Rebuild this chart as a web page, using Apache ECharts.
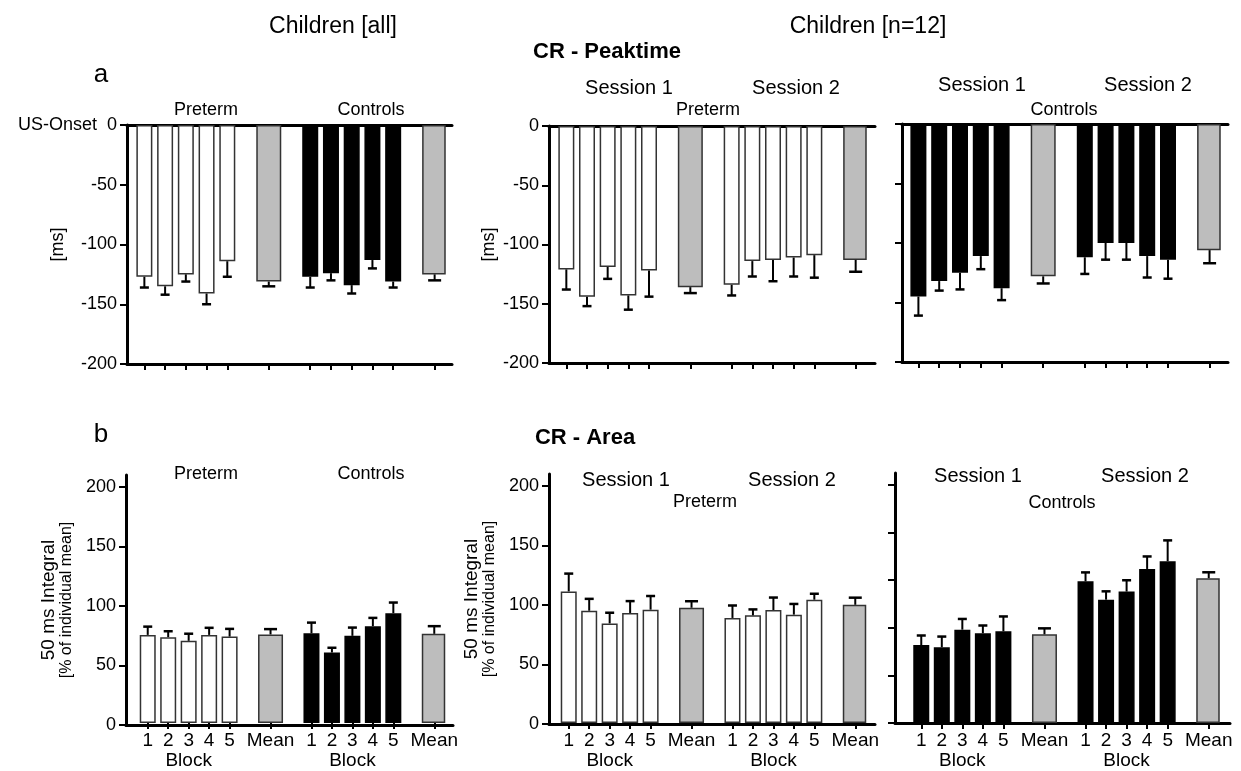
<!DOCTYPE html>
<html><head><meta charset="utf-8">
<script src="https://cdn.jsdelivr.net/npm/echarts@6/dist/echarts.min.js"></script>
<style>html,body{margin:0;padding:0;background:#fff}#c{width:1241px;height:771px}</style>
</head><body><div id="c"></div>
<script>
// ---------- data ----------
const categories = ['1','2','3','4','5','','Mean','','1','2','3','4','5','','Mean'];
const peakTicks = [-200,-150,-100,-50,0];
const areaTicks = [0,50,100,150,200];
const areaTicksControls = [0,40,80,120,160,200];

// CR - Peaktime, Children [all]: Preterm / Controls
const peakAllPreterm = [-127,-135,-125,-141,-114];
const peakAllPretermErr = [9,7,6,9,13];
const peakAllControls = [-127,-124,-134,-113,-131];
const peakAllControlsErr = [9,6,7,7,5];
const peakAllMeans = [-131,-125];
const peakAllMeansErr = [4,5];

// CR - Peaktime, Children [n=12], Preterm: Session 1 / Session 2
const peakPretS1 = [-121,-144,-119,-143,-122];
const peakPretS1Err = [17,8,10,12,22];
const peakPretS2 = [-134,-114,-113,-111,-109];
const peakPretS2Err = [9,13,18,16,19];
const peakPretMeans = [-136,-113];
const peakPretMeansErr = [5,10];

// CR - Peaktime, Children [n=12], Controls: Session 1 / Session 2
const peakCtrlS1 = [-145,-132,-125,-111,-138];
const peakCtrlS1Err = [16,8,14,11,10];
const peakCtrlS2 = [-112,-100,-100,-111,-114];
const peakCtrlS2Err = [14,14,14,18,16];
const peakCtrlMeans = [-128,-106];
const peakCtrlMeansErr = [6,11];

// CR - Area, Children [all]: Preterm / Controls
const areaAllPreterm = [74.6,72.7,69.6,74.6,73.2];
const areaAllPretermErr = [7,5,6,6,6.5];
const areaAllControls = [76,59.7,73.8,82,93];
const areaAllControlsErr = [9,4,7,7,9];
const areaAllMeans = [75,75.5];
const areaAllMeansErr = [4.5,6.5];

// CR - Area, Children [n=12], Preterm: Session 1 / Session 2
const areaPretS1 = [111,94.7,84,92.8,95.6];
const areaPretS1Err = [15,10,9,10,11.5];
const areaPretS2 = [88.6,90.8,95.3,91.4,104];
const areaPretS2Err = [10.5,5,10.5,9,5];
const areaPretMeans = [97.2,99.7];
const areaPretMeansErr = [5.5,6];

// CR - Area, Children [n=12], Controls: Session 1 / Session 2
const areaCtrlS1 = [65.5,63.6,78.4,75.4,77];
const areaCtrlS1Err = [8,9,9,6.5,12.5];
const areaCtrlS2 = [119,103.6,110.4,129.4,135.9];
const areaCtrlS2Err = [7.5,7,9.5,10.5,17.5];
const areaCtrlMeans = [74.5,121.6];
const areaCtrlMeansErr = [5,5];

// ---------- layout ----------
const FONT = 'Liberation Sans, Arial, Helvetica, sans-serif';
const WHITE = '#ffffff', BLACK = '#000000', GRAY = '#bdbdbd';
const blockIdx1 = [0,1,2,3,4], blockIdx2 = [8,9,10,11,12], meanIdx = [6,14];
const AREA_NAME = '{a|50 ms Integral}\n{b|[% of individual mean]}';

const panels = [
  {frame:[127,125,325,239], data:[134,125,311,239], ext:[-200,0], ticks:peakTicks, labels:true,
   name:'[ms]', nameGap:60, top:true, xLabels:false, onset:true, colors:[WHITE,BLACK],
   g1:peakAllPreterm, e1:peakAllPretermErr, g2:peakAllControls, e2:peakAllControlsErr, m:peakAllMeans, me:peakAllMeansErr},
  {frame:[549,126,326,237], data:[556,126,310,237], ext:[-200,0], ticks:peakTicks, labels:true,
   name:'[ms]', nameGap:51, top:true, xLabels:false, colors:[WHITE,WHITE],
   g1:peakPretS1, e1:peakPretS1Err, g2:peakPretS2, e2:peakPretS2Err, m:peakPretMeans, me:peakPretMeansErr},
  {frame:[902,124,326,238], data:[908,124,312,238], ext:[-200,0], ticks:peakTicks, labels:false,
   name:'', top:true, xLabels:false, colors:[BLACK,BLACK],
   g1:peakCtrlS1, e1:peakCtrlS1Err, g2:peakCtrlS2, e2:peakCtrlS2Err, m:peakCtrlMeans, me:peakCtrlMeansErr},
  {frame:[126,475,327,250], data:[137.5,475,307,250], ext:[0,210], ticks:areaTicks, labels:true,
   name:AREA_NAME, nameGap:51, top:false, xLabels:true, colors:[WHITE,BLACK],
   g1:areaAllPreterm, e1:areaAllPretermErr, g2:areaAllControls, e2:areaAllControlsErr, m:areaAllMeans, me:areaAllMeansErr},
  {frame:[549,474,326,250], data:[558.5,474,307,250], ext:[0,210], ticks:areaTicks, labels:true,
   name:AREA_NAME, nameGap:51, top:false, xLabels:true, colors:[WHITE,WHITE],
   g1:areaPretS1, e1:areaPretS1Err, g2:areaPretS2, e2:areaPretS2Err, m:areaPretMeans, me:areaPretMeansErr},
  {frame:[895,473,335,250], data:[911,473,308,250], ext:[0,210], ticks:areaTicksControls, labels:false,
   name:'', top:false, xLabels:true, colors:[BLACK,BLACK],
   g1:areaCtrlS1, e1:areaCtrlS1Err, g2:areaCtrlS2, e2:areaCtrlS2Err, m:areaCtrlMeans, me:areaCtrlMeansErr}
];

const grid = [], xAxis = [], yAxis = [], series = [];

function line(w){ return {show:true, onZero:false, lineStyle:{color:'#000', width:w}}; }

panels.forEach(p => {
  const fg = grid.length;
  grid.push({left:p.frame[0], top:p.frame[1], width:p.frame[2], height:p.frame[3]});
  const dg = grid.length;
  grid.push({left:p.data[0], top:p.data[1], width:p.data[2], height:p.data[3]});

  // frame axes
  xAxis.push({gridIndex:fg, type:'value', min:0, max:1, position:'bottom', axisLine:line(3),
    axisTick:{show:false}, axisLabel:{show:false}, splitLine:{show:false}});
  if (p.top) xAxis.push({gridIndex:fg, type:'value', min:0, max:1, position:'top', axisLine:line(3),
    axisTick:{show:false}, axisLabel:{show:false}, splitLine:{show:false}});
  yAxis.push({gridIndex:fg, type:'value', min:p.ext[0], max:p.ext[1], position:'left',
    axisLine:line(3),
    axisTick:{show:true, length:7, customValues:p.ticks, lineStyle:{color:'#000', width:2}},
    axisLabel:{show:p.labels, customValues:p.ticks, fontSize:18, color:'#000', fontFamily:FONT, margin:10,
      formatter: v => (p.onset && v === 0) ? 'US-Onset  0' : String(v)},
    splitLine:{show:false},
    name:p.name, nameLocation:'middle', nameRotate:90, nameGap:p.nameGap, nameMoveOverlap:false,
    nameTextStyle:{fontSize:18, color:'#000', fontFamily:FONT,
      rich:{a:{fontSize:19, lineHeight:19, fontFamily:FONT, color:'#000'}, b:{fontSize:16, lineHeight:17, fontFamily:FONT, color:'#000'}}}
  });

  // data axes
  const bx = xAxis.length;
  xAxis.push({gridIndex:dg, type:'category', data:categories, position:'bottom', boundaryGap:true,
    axisLine:{show:false, onZero:false},
    axisTick:{show:true, alignWithLabel:true, length:6, interval:(i, v) => v !== '', lineStyle:{color:'#000', width:2}},
    axisLabel:{show:p.xLabels, interval:0, fontSize:19, lineHeight:20, color:'#000', fontFamily:FONT, margin:8,
      formatter:(v, i) => (i === 2 || i === 10) ? v + '\nBlock' : v},
    splitLine:{show:false}});
  const tx = xAxis.length;
  xAxis.push({gridIndex:dg, type:'category', data:categories, position:'top', boundaryGap:true, show:false});
  const dy = yAxis.length;
  yAxis.push({gridIndex:dg, type:'value', min:p.ext[0], max:p.ext[1], show:false, splitLine:{show:false}});

  // bars
  const blockData = categories.map(() => '-');
  const meanData = categories.map(() => '-');
  const errData = [];
  [[blockIdx1, p.g1, p.e1, p.colors[0]], [blockIdx2, p.g2, p.e2, p.colors[1]]].forEach(([idx, vals, errs, col]) => {
    idx.forEach((ci, k) => {
      blockData[ci] = {value:vals[k], itemStyle:{color:col, borderColor: col === BLACK ? '#000' : '#333', borderWidth:1.5}};
      errData.push([ci, vals[k], (vals[k] < 0 ? -1 : 1) * errs[k], 0]);
    });
  });
  meanIdx.forEach((ci, k) => {
    meanData[ci] = p.m[k];
    errData.push([ci, p.m[k], (p.m[k] < 0 ? -1 : 1) * p.me[k], 1]);
  });
  series.push({type:'bar', xAxisIndex:bx, yAxisIndex:dy, data:blockData, barWidth:16, z:2, silent:true, animation:false});
  series.push({type:'bar', xAxisIndex:tx, yAxisIndex:dy, data:meanData, barWidth:25, z:2, silent:true, animation:false,
    itemStyle:{color:GRAY, borderColor:'#333', borderWidth:1.5}});
  series.push({type:'custom', xAxisIndex:bx, yAxisIndex:dy, data:errData, z:3, silent:true, animation:false,
    encode:{x:0, y:1},
    renderItem:(params, api) => {
      const x = api.value(0), v = api.value(1), e = api.value(2), isMean = api.value(3);
      const p0 = api.coord([x, v]), p1 = api.coord([x, v + e]);
      const w = isMean ? 13 : 9;
      return {type:'group', children:[
        {type:'line', shape:{x1:p0[0], y1:p0[1], x2:p1[0], y2:p1[1]}, style:{stroke:'#000', lineWidth:2}},
        {type:'line', shape:{x1:p1[0]-w/2, y1:p1[1], x2:p1[0]+w/2, y2:p1[1]}, style:{stroke:'#000', lineWidth:2.5}}
      ]};
    }});
});

function txt(s, x, y, size, bold){
  return {type:'text', x:x, y:y, silent:true,
    style:{text:s, font:(bold ? 'bold ' : '') + size + 'px ' + FONT, fill:'#000', textAlign:'center', textVerticalAlign:'middle'}};
}
const graphic = [
  txt('Children [all]', 333, 27, 23), txt('Children [n=12]', 868, 27, 23),
  txt('CR - Peaktime', 607, 52, 22, true), txt('a', 101, 75, 26),
  txt('b', 101, 435, 26), txt('CR - Area', 585, 438, 22, true),
  txt('Preterm', 206, 110, 18), txt('Controls', 371, 110, 18),
  txt('Session 1', 629, 88, 20), txt('Session 2', 796, 88, 20), txt('Preterm', 708, 110, 18),
  txt('Session 1', 982, 85, 20), txt('Session 2', 1148, 85, 20), txt('Controls', 1064, 110, 18),
  txt('Preterm', 206, 474, 18), txt('Controls', 371, 474, 18),
  txt('Session 1', 626, 480, 20), txt('Session 2', 792, 480, 20), txt('Preterm', 705, 502, 18),
  txt('Session 1', 978, 476, 20), txt('Session 2', 1145, 476, 20), txt('Controls', 1062, 503, 18)
];

const chart = echarts.init(document.getElementById('c'), null, {renderer:'canvas'});
chart.setOption({animation:false, backgroundColor:'#fff', textStyle:{fontFamily:FONT},
  grid, xAxis, yAxis, series, graphic});
</script></body></html>
